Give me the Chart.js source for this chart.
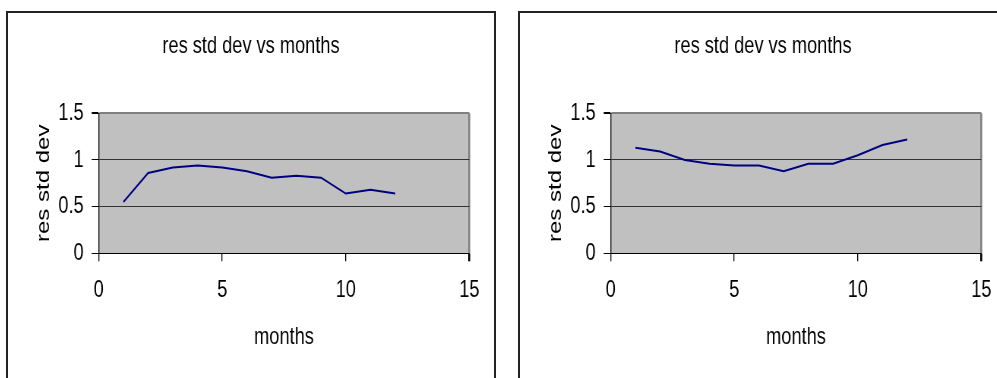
<!DOCTYPE html>
<html>
<head>
<meta charset="utf-8">
<script src="https://cdn.jsdelivr.net/npm/chart.js@4/dist/chart.umd.min.js"></script>
<style>
  html, body { margin: 0; padding: 0; background: #fff; overflow: hidden; width: 997px; height: 378px; }
  .panel { position: absolute; top: 11px; width: 486px; height: 380px; border: 2px solid #222; background: #fff; overflow: hidden; }
  #panelA { left: 6px; }
  #panelB { left: 518px; }
  /* charts are drawn wide and condensed horizontally */
  canvas { display: block; transform-origin: 0 0; transform: scaleX(0.759375); }
</style>
</head>
<body>
<div class="panel" id="panelA"><canvas id="chartA" width="640" height="365"></canvas></div>
<div class="panel" id="panelB"><canvas id="chartB" width="640" height="365"></canvas></div>
<script>
// Residual standard deviation by month, two series
const months = [1, 2, 3, 4, 5, 6, 7, 8, 9, 10, 11, 12];
const resStdDevA = [0.55, 0.86, 0.92, 0.94, 0.92, 0.88, 0.81, 0.83, 0.81, 0.64, 0.68, 0.64];
const resStdDevB = [1.13, 1.09, 1.00, 0.96, 0.94, 0.94, 0.88, 0.96, 0.96, 1.05, 1.16, 1.22];

const xTickValues = [0, 5, 10, 15];
const xTickLabels = ['0', '5', '10', '15'];
const yTickValues = [0, 0.5, 1, 1.5];
const yTickLabels = ['0', '0.5', '1', '1.5'];

const chartTitle = 'res std dev vs months';
const xAxisTitle = 'months';
const yAxisTitle = 'res std dev';

const SX = 0.759375;            // horizontal condensing applied to the canvas
const FONT = "'Liberation Sans', Arial, sans-serif";
const FS = 24;
const SIDE = 24.7 / SX;         // equal side padding keeps the title centred on the panel

// Silver plot-area fill
const plotFill = {
  id: 'plotFill',
  beforeDraw(chart) {
    const {ctx, chartArea: a} = chart;
    ctx.save();
    ctx.fillStyle = '#c0c0c0';
    ctx.fillRect(a.left, a.top, a.right - a.left, a.bottom - a.top);
    ctx.restore();
  }
};

function makeChart(id, values) {
  return new Chart(document.getElementById(id), {
    type: 'line',
    data: {
      datasets: [{
        data: months.map((m, i) => ({x: m, y: values[i]})),
        borderColor: '#000080',
        borderWidth: 2,
        pointRadius: 0,
        tension: 0,
        fill: false
      }]
    },
    options: {
      responsive: false,
      animation: false,
      devicePixelRatio: 1,
      layout: { padding: { top: 0, right: SIDE, bottom: 24.7, left: SIDE } },
      plugins: {
        legend: { display: false },
        tooltip: { enabled: false },
        title: {
          display: true,
          text: chartTitle,
          color: '#000',
          font: { family: FONT, size: FS, weight: 'normal' },
          padding: { top: 19.3, bottom: 52.2 }
        }
      },
      scales: {
        x: {
          type: 'linear',
          min: 0,
          max: 15,
          afterBuildTicks(scale) { scale.ticks = xTickValues.map(v => ({value: v})); },
          afterFit(scale) { scale.height = 100; },
          ticks: {
            color: '#000',
            font: { family: FONT, size: FS },
            padding: 14.5,
            maxRotation: 0,
            callback: (v) => xTickLabels[xTickValues.indexOf(v)]
          },
          grid: {
            drawOnChartArea: true,
            color: (c) => (c.tick && c.tick.value === 15 ? '#808080' : 'rgba(0,0,0,0)'),
            lineWidth: (c) => (c.tick && c.tick.value === 15 ? 2 / SX : 1 / SX),
            tickColor: '#000',
            tickLength: 8
          },
          border: { display: true, color: '#000', width: 1 },
          title: {
            display: true,
            text: xAxisTitle,
            color: '#000',
            font: { family: FONT, size: FS },
            padding: { top: 0, bottom: 1.2 }
          }
        },
        y: {
          type: 'linear',
          min: 0,
          max: 1.5,
          afterBuildTicks(scale) { scale.ticks = yTickValues.map(v => ({value: v})); },
          afterFit(scale) { scale.width = 90.7 / SX - SIDE; },
          ticks: {
            color: '#000',
            font: { family: FONT, size: FS },
            padding: 8 / SX,
            callback: (v) => yTickLabels[yTickValues.indexOf(v)]
          },
          grid: {
            color: (c) => (c.tick && c.tick.value === 1.5 ? '#808080' : '#333'),
            lineWidth: (c) => (c.tick && c.tick.value === 1.5 ? 2 : 1),
            tickColor: '#000',
            tickLength: 7 / SX
          },
          border: { display: true, color: '#000', width: 1 / SX },
          title: {
            display: true,
            text: yAxisTitle,
            color: '#000',
            font: { family: FONT, size: FS },
            padding: { top: 36 / SX - SIDE - FS * 0.6, bottom: 0 }
          }
        }
      }
    },
    plugins: [plotFill]
  });
}

makeChart('chartA', resStdDevA);
makeChart('chartB', resStdDevB);
</script>
</body>
</html>
